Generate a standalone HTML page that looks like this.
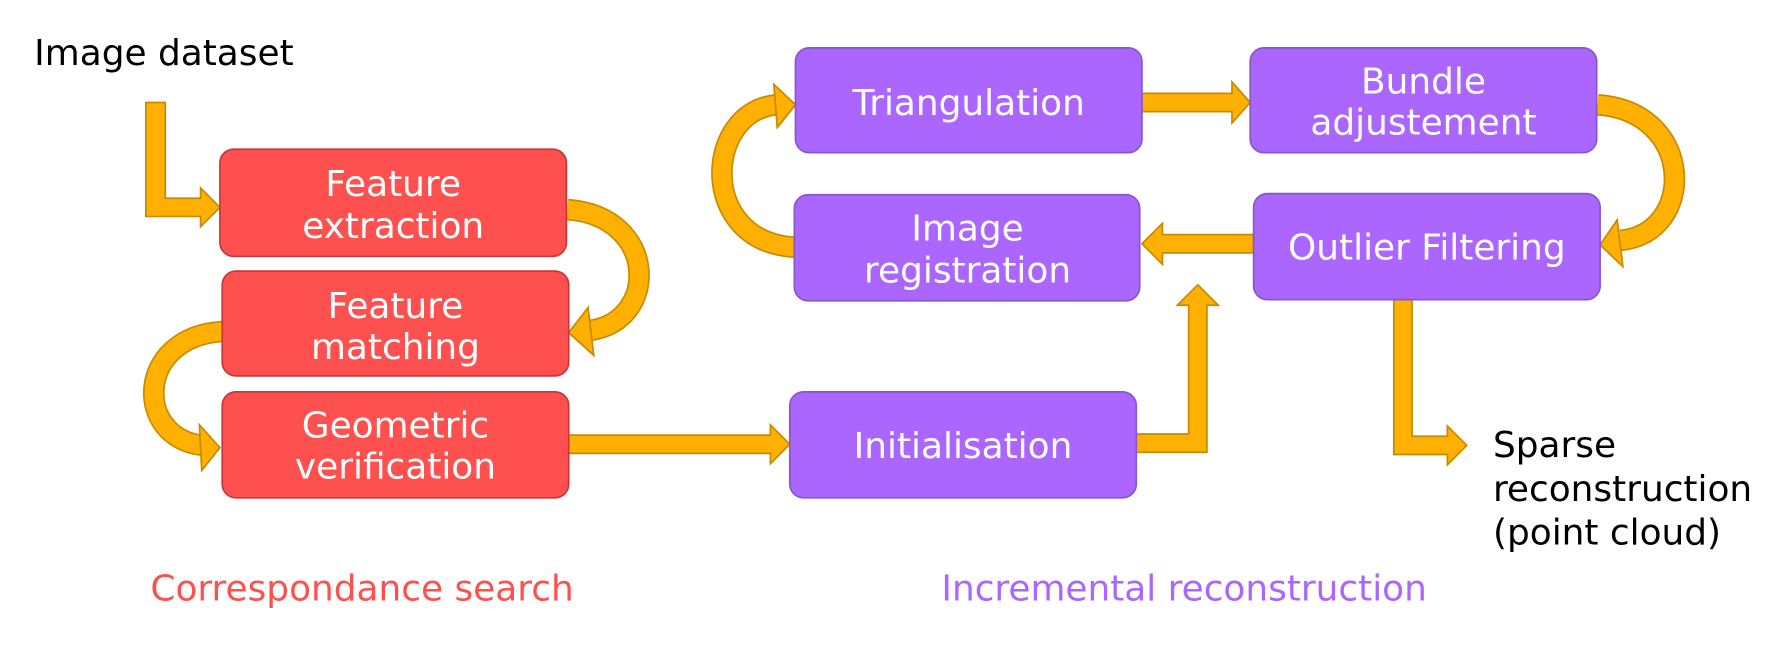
<!DOCTYPE html>
<html><head><meta charset="utf-8"><style>html,body{margin:0;padding:0;background:#fff}svg{display:block}</style></head>
<body>
<svg width="1787" height="655" viewBox="0 0 1568 575" preserveAspectRatio="none" xmlns="http://www.w3.org/2000/svg" font-family="DejaVu Sans, Liberation Sans, sans-serif" font-size="31.5">
<g fill="#ffb000" stroke="#c88a00" stroke-width="1.5">
<path d="M128,90 H145 V174 H176 V165 L193,182 L176,199 V190 H128 Z"/>
<path d="M499,382 H676 V373 L693,390 L676,407 V398 H499 Z"/>
<path d="M997,381 H1043 V268 H1033 L1051,250 L1069,268 H1059 V397 H997 Z"/>
<path d="M1100,206 H1020 V196 L1002,214 L1020,232 V222 H1100 Z"/>
<path d="M1002,82 H1081 V72 L1097,90 L1081,108 V98 H1002 Z"/>
<path d="M1223,263 H1239 V383 H1270 V374 L1287,391 L1270,408 V399 H1223 Z"/>
</g>
<g fill="none" stroke-linecap="butt">
<path d="M498,184 C578,190 578,282 518,290" stroke="#c88a00" stroke-width="19"/>
<path d="M498,184 C578,190 578,282 518,290" stroke="#ffb000" stroke-width="16"/>
<path d="M195,291 C118,296 118,385 178,391" stroke="#c88a00" stroke-width="19"/>
<path d="M195,291 C118,296 118,385 178,391" stroke="#ffb000" stroke-width="16"/>
<path d="M1402,92 C1488,98 1488,205 1422,211" stroke="#c88a00" stroke-width="19"/>
<path d="M1402,92 C1488,98 1488,205 1422,211" stroke="#ffb000" stroke-width="16"/>
<path d="M697,217 C612,212 618,98 681,92" stroke="#c88a00" stroke-width="19"/>
<path d="M697,217 C612,212 618,98 681,92" stroke="#ffb000" stroke-width="16"/>
</g>
<g fill="#ffb000" stroke="#c88a00" stroke-width="1.5">
<polygon points="499,292 516,270 521,312"/>
<polygon points="193,393 175,373 177,413"/>
<polygon points="1404,215 1419,193 1424,234"/>
<polygon points="698,92 679,74 682,112"/>
</g>
<g fill="#ff5050" stroke="#c83737" stroke-width="1.5">
<rect x="193" y="131" width="304" height="94" rx="12"/>
<rect x="195" y="238" width="304" height="92" rx="12"/>
<rect x="195" y="344" width="304" height="93" rx="12"/>
</g>
<g fill="#aa66ff" stroke="#8855cc" stroke-width="1.5">
<rect x="698" y="42" width="304" height="92" rx="12"/>
<rect x="1097" y="42" width="304" height="92" rx="12"/>
<rect x="697" y="171" width="303" height="93" rx="12"/>
<rect x="1100" y="170" width="304" height="93" rx="12"/>
<rect x="693" y="344" width="304" height="93" rx="12"/>
</g>
<g fill="#fff" text-anchor="middle">
<text x="345" y="172">Feature</text><text x="345" y="209">extraction</text>
<text x="347" y="279">Feature</text><text x="347" y="315">matching</text>
<text x="347" y="384">Geometric</text><text x="347" y="420">verification</text>
<text x="850" y="101">Triangulation</text>
<text x="1249" y="82">Bundle</text><text x="1249" y="118">adjustement</text>
<text x="849" y="211">Image</text><text x="849" y="248">registration</text>
<text x="1252" y="228">Outlier Filtering</text>
<text x="845" y="402">Initialisation</text>
</g>
<text x="30" y="57" fill="#000">Image dataset</text>
<text x="1310" y="401" fill="#000">Sparse</text>
<text x="1310" y="440" fill="#000">reconstruction</text>
<text x="1310" y="478" fill="#000">(point cloud)</text>
<text x="132" y="527" fill="#ff5050">Correspondance search</text>
<text x="826" y="527" fill="#aa66ff">Incremental reconstruction</text>
</svg>
</body></html>
